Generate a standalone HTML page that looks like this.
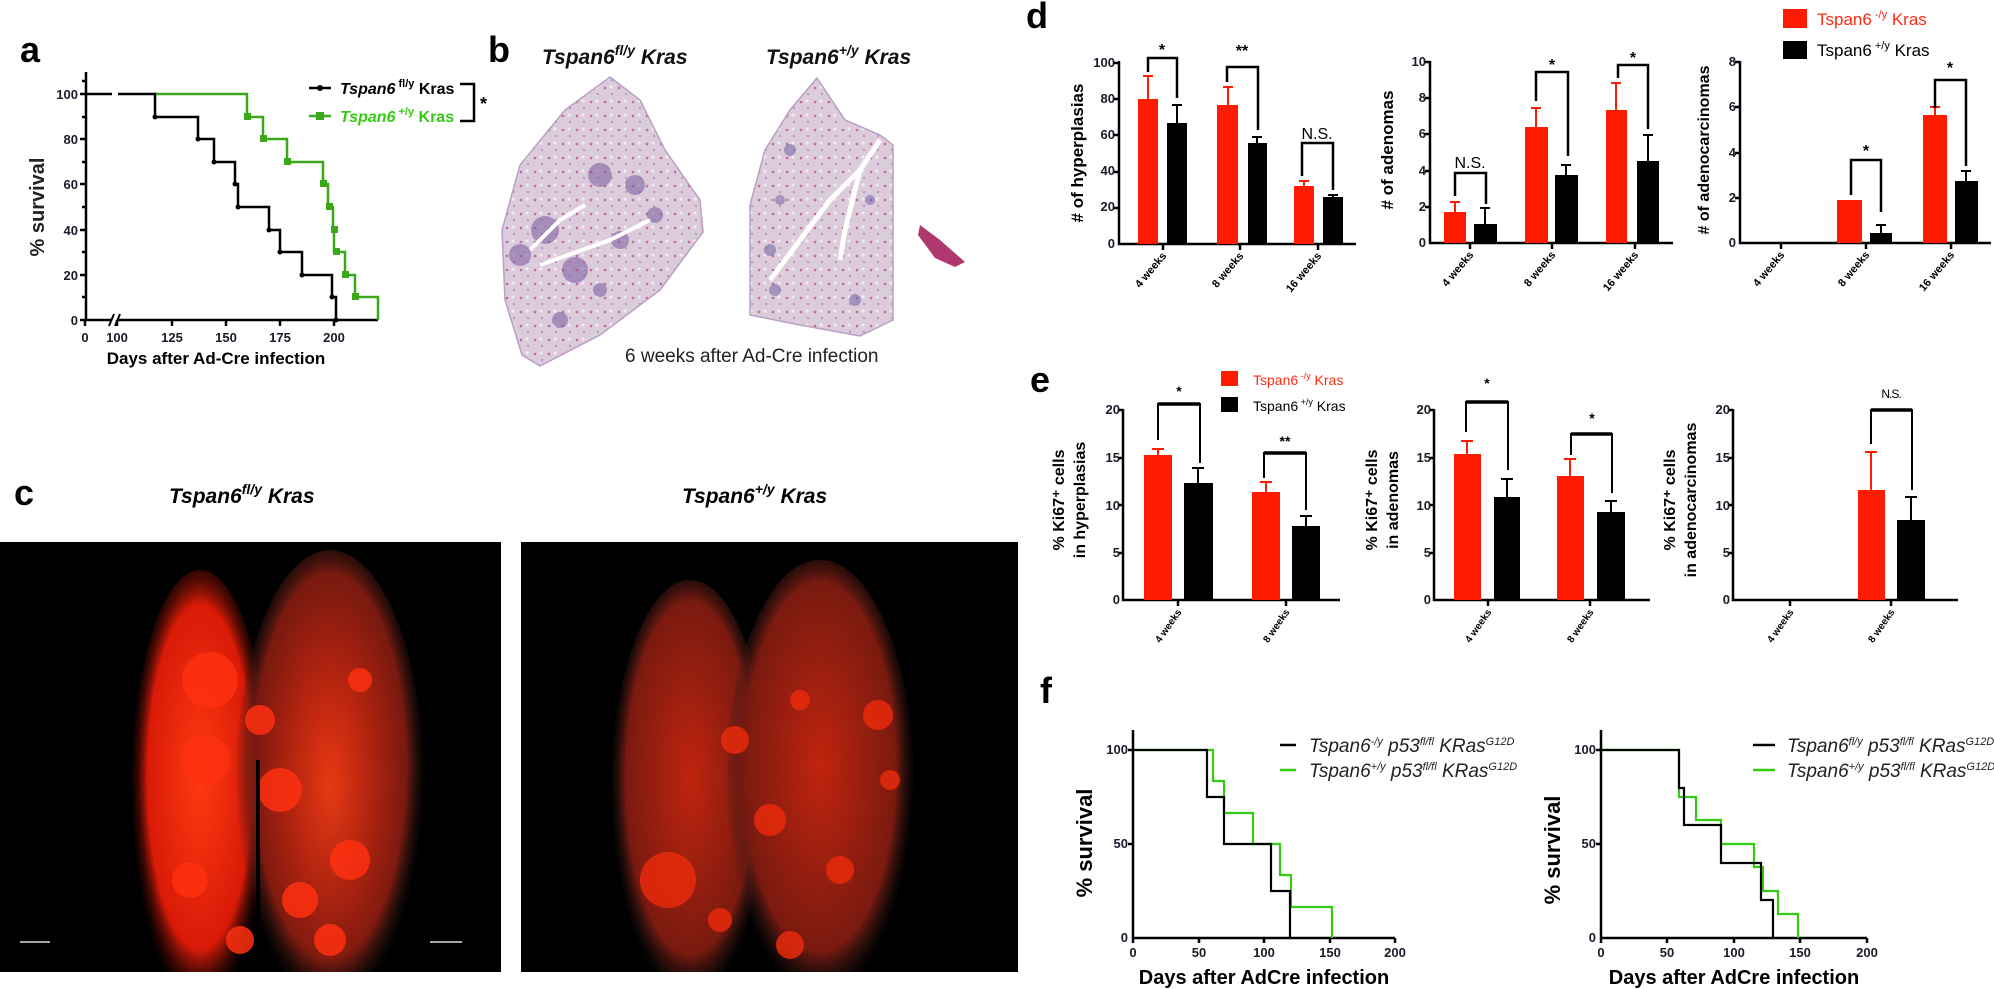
<!DOCTYPE html>
<html><head><meta charset="utf-8"><style>
html,body{margin:0;padding:0;background:#fff;}
svg{display:block;font-family:"Liberation Sans",Arial,sans-serif;}
.t{font-weight:bold;font-size:13px;fill:#1a1a2a;}
.ax{stroke:#000;stroke-width:2.5;fill:none;}
.lab{font-weight:bold;font-size:36px;}
</style></head><body>
<svg width="1994" height="989" viewBox="0 0 1994 989" xmlns="http://www.w3.org/2000/svg">
<defs>
<radialGradient id="rg" cx="50%" cy="45%" r="50%"><stop offset="0" stop-color="#ff3a10"/><stop offset="0.75" stop-color="#d81a08"/><stop offset="1" stop-color="#3a0a04" stop-opacity="0"/></radialGradient>
<radialGradient id="rd" cx="50%" cy="45%" r="50%"><stop offset="0" stop-color="#c0240e"/><stop offset="0.8" stop-color="#7a1a10"/><stop offset="1" stop-color="#2a1a18" stop-opacity="0"/></radialGradient>
<radialGradient id="blob" cx="50%" cy="50%" r="50%"><stop offset="0" stop-color="#ff4a18"/><stop offset="1" stop-color="#e0200a" stop-opacity="0"/></radialGradient>
<clipPath id="c1"><rect x="0" y="542" width="501" height="430"/></clipPath>
<clipPath id="c2"><rect x="521" y="542" width="497" height="430"/></clipPath>
<pattern id="he" width="14" height="14" patternUnits="userSpaceOnUse"><rect width="14" height="14" fill="#dccbdb"/><circle cx="3" cy="4" r="1.3" fill="#c46a9a"/><circle cx="10" cy="10" r="1" fill="#a58ab8"/><circle cx="9" cy="3" r="1.6" fill="#f2eaf2"/></pattern>
</defs>

<!-- Panel a -->
<text x="20" y="62" class="lab">a</text>
<g class="t" text-anchor="end" font-size="14">
<text x="78" y="99">100</text><text x="78" y="144">80</text><text x="78" y="189">60</text><text x="78" y="235">40</text><text x="78" y="280">20</text><text x="78" y="325">0</text></g>
<path class="ax" d="M86,72 V320 M80,94 H86 M80,139 H86 M80,184 H86 M80,230 H86 M80,275 H86 M80,320 H86 M82,117 H86 M82,162 H86 M82,207 H86 M82,252 H86 M82,297 H86 M82,81 H86"/>
<path class="ax" d="M86,320 H112 M118,320 H378 M85,320 V326 M117,320 V326 M172,320 V326 M226,320 V326 M280,320 V326 M334,320 V326"/>
<path d="M109,326 L114,314 M115,326 L120,314" stroke="#000" stroke-width="2"/>
<g class="t" text-anchor="middle" font-size="14">
<text x="85" y="342">0</text><text x="117" y="342">100</text><text x="172" y="342">125</text><text x="226" y="342">150</text><text x="280" y="342">175</text><text x="334" y="342">200</text></g>
<text x="216" y="364" text-anchor="middle" font-weight="bold" font-size="17">Days after Ad-Cre  infection</text>
<text transform="translate(44,207) rotate(-90)" text-anchor="middle" font-weight="bold" font-size="20" fill="#222">% survival</text>
<path d="M155,94 H247 V117 H263 V139 H287 V162 H323 V184 H328 V207 H333 V230 H334 V252 H345 V275 H355 V297 H378 V320" stroke="#3aa818" stroke-width="2.5" fill="none"/>
<path d="M86,94 H112 M118,94 H155 V117 H198 V139 H214 V162 H235 V184 H238 V207 H269 V230 H280 V252 H302 V275 H332 V297 H336 V320" stroke="#000" stroke-width="2.5" fill="none"/>
<g fill="#3aa818"><rect x="244" y="113" width="7" height="7"/><rect x="260" y="135" width="7" height="7"/><rect x="284" y="158" width="7" height="7"/><rect x="320" y="180" width="7" height="7"/><rect x="326" y="203" width="7" height="7"/><rect x="331" y="226" width="7" height="7"/><rect x="333" y="248" width="7" height="7"/><rect x="342" y="271" width="7" height="7"/><rect x="352" y="293" width="7" height="7"/></g>
<g fill="#000"><circle cx="155" cy="117" r="2.5"/><circle cx="198" cy="139" r="2.5"/><circle cx="214" cy="162" r="2.5"/><circle cx="235" cy="184" r="2.5"/><circle cx="238" cy="207" r="2.5"/><circle cx="269" cy="230" r="2.5"/><circle cx="280" cy="252" r="2.5"/><circle cx="302" cy="275" r="2.5"/><circle cx="332" cy="297" r="2.5"/><circle cx="336" cy="320" r="2.5"/></g>
<path d="M309,88 H331" stroke="#000" stroke-width="2.5"/><circle cx="320" cy="88" r="3"/>
<path d="M309,116 H331" stroke="#3aa818" stroke-width="2.5"/><rect x="316" y="112" width="8" height="8" fill="#3aa818"/>
<text x="340" y="94" font-weight="bold" font-size="16" font-style="italic">Tspan6<tspan font-size="11" dy="-7" font-style="normal"> fl/y</tspan><tspan dy="7" font-style="normal"> Kras</tspan></text>
<text x="340" y="122" font-weight="bold" font-size="16" font-style="italic" fill="#33cc10">Tspan6<tspan font-size="11" dy="-7" font-style="normal"> +/y</tspan><tspan dy="7" font-style="normal"> Kras</tspan></text>
<path d="M460,84 H474 V121 H460" stroke="#000" stroke-width="2.5" fill="none"/>
<text x="480" y="110" font-weight="bold" font-size="18">*</text>

<!-- Panel b -->
<text x="488" y="62" class="lab">b</text>
<text x="542" y="64" font-style="italic" font-weight="bold" font-size="21" fill="#111">Tspan6<tspan font-size="14" dy="-9">fl/y</tspan><tspan dy="9"> Kras</tspan></text>
<text x="766" y="64" font-style="italic" font-weight="bold" font-size="21" fill="#111">Tspan6<tspan font-size="14" dy="-9">+/y</tspan><tspan dy="9"> Kras</tspan></text>
<path d="M610,77 L640,100 L665,150 L700,200 L703,232 L660,290 L600,335 L540,366 L522,355 L505,300 L502,230 L520,165 L565,110 Z" fill="url(#he)" stroke="#b9a0c4" stroke-width="1.5"/>
<g fill="#7a5a9e" opacity="0.55"><circle cx="545" cy="230" r="14"/><circle cx="600" cy="175" r="12"/><circle cx="635" cy="185" r="10"/><circle cx="575" cy="270" r="13"/><circle cx="520" cy="255" r="11"/><circle cx="560" cy="320" r="8"/><circle cx="620" cy="240" r="9"/><circle cx="655" cy="215" r="8"/><circle cx="600" cy="290" r="7"/></g>
<path d="M530,250 L560,220 L585,205 M540,265 L610,240 L650,220" stroke="#fff" stroke-width="4" fill="none"/>
<path d="M817,78 L845,120 L880,135 L893,145 L893,320 L860,336 L800,325 L750,315 L750,205 L765,150 L790,110 Z" fill="url(#he)" stroke="#b9a0c4" stroke-width="1.5"/>
<g fill="#6a5aa0" opacity="0.5"><circle cx="790" cy="150" r="6"/><circle cx="770" cy="250" r="6"/><circle cx="775" cy="290" r="6"/><circle cx="855" cy="300" r="6"/><circle cx="870" cy="200" r="5"/><circle cx="780" cy="200" r="5"/></g>
<path d="M880,140 L860,170 L830,200 L800,240 L770,280 M860,170 L845,230 L840,260" stroke="#fff" stroke-width="5" fill="none"/>
<path d="M920,225 L940,240 L965,262 L955,267 L935,258 L918,235 Z" fill="#b0386e"/>
<text x="625" y="362" font-size="19" fill="#222">6 weeks after Ad-Cre infection</text>

<!-- Panel c -->
<text x="14" y="505" class="lab" font-size="32">c</text>
<text x="169" y="503" font-style="italic" font-weight="bold" font-size="21">Tspan6<tspan font-size="14" dy="-9">fl/y</tspan><tspan dy="9"> Kras</tspan></text>
<text x="682" y="503" font-style="italic" font-weight="bold" font-size="21">Tspan6<tspan font-size="14" dy="-9">+/y</tspan><tspan dy="9"> Kras</tspan></text>
<rect x="0" y="542" width="501" height="430" fill="#000"/>
<rect x="521" y="542" width="497" height="430" fill="#000"/>
<g clip-path="url(#c1)">
<ellipse cx="200" cy="800" rx="70" ry="230" fill="url(#rg)"/>
<ellipse cx="330" cy="790" rx="95" ry="240" fill="url(#rd)"/>
<ellipse cx="330" cy="790" rx="75" ry="200" fill="url(#blob)" opacity="0.6"/>
<g fill="#ff3010" opacity="0.85"><circle cx="210" cy="680" r="28"/><circle cx="205" cy="760" r="25"/><circle cx="360" cy="680" r="12"/><circle cx="280" cy="790" r="22"/><circle cx="350" cy="860" r="20"/><circle cx="300" cy="900" r="18"/><circle cx="190" cy="880" r="18"/><circle cx="260" cy="720" r="15"/><circle cx="330" cy="940" r="16"/><circle cx="240" cy="940" r="14"/></g>
<rect x="256" y="760" width="4" height="212" fill="#000"/>
</g>
<g clip-path="url(#c2)">
<ellipse cx="690" cy="800" rx="80" ry="220" fill="url(#rd)"/>
<ellipse cx="820" cy="790" rx="95" ry="230" fill="url(#rd)"/>
<g fill="#e82a0c" opacity="0.85"><circle cx="878" cy="715" r="15"/><circle cx="668" cy="880" r="28"/><circle cx="735" cy="740" r="14"/><circle cx="800" cy="700" r="10"/><circle cx="770" cy="820" r="16"/><circle cx="840" cy="870" r="14"/><circle cx="720" cy="920" r="12"/><circle cx="890" cy="780" r="10"/><circle cx="790" cy="945" r="14"/></g>
</g>
<path d="M20,942 H50 M430,942 H462" stroke="#ddd" stroke-width="1.5"/>

<!-- Panel d -->
<text x="1026" y="28" class="lab">d</text>
<g class="t" text-anchor="end" font-size="11"><text x="1115" y="67">100</text><text x="1115" y="103">80</text><text x="1115" y="139">60</text><text x="1115" y="175">40</text><text x="1115" y="211">20</text><text x="1115" y="248">0</text></g>
<path class="ax" d="M1119,61 V244 H1356 M1114,63 H1119 M1114,99 H1119 M1114,135 H1119 M1114,172 H1119 M1114,208 H1119 M1163,244 V250 M1240,244 V250 M1318,244 V250"/>
<text transform="translate(1083,153) rotate(-90)" text-anchor="middle" font-weight="bold" font-size="17">#  of hyperplasias</text>
<g fill="#ff1a00"><rect x="1138" y="99" width="20" height="145"/><rect x="1217" y="105" width="21" height="139"/><rect x="1294" y="186" width="20" height="58"/></g>
<g fill="#000"><rect x="1167" y="123" width="20" height="121"/><rect x="1248" y="143" width="19" height="101"/><rect x="1323" y="197" width="20" height="47"/></g>
<path d="M1148,99 V76 M1143,76 H1153 M1228,105 V87 M1223,87 H1233 M1304,186 V181 M1299,181 H1309" stroke="#ff1a00" stroke-width="2"/>
<path d="M1177,123 V105 M1172,105 H1182 M1257,143 V137 M1252,137 H1262 M1333,197 V195 M1328,195 H1338" stroke="#000" stroke-width="2"/>
<path d="M1148,72 V58 H1177 V98 M1227,82 V67 H1258 V130 M1302,176 V143 H1333 V190" stroke="#000" stroke-width="2.5" fill="none"/>
<g font-weight="bold" font-size="16" text-anchor="middle"><text x="1162" y="55">*</text><text x="1242" y="56">**</text><text x="1317" y="139" font-weight="normal">N.S.</text></g>
<g class="t" text-anchor="end" font-size="11"><text x="1426" y="66">10</text><text x="1426" y="102">8</text><text x="1426" y="138">6</text><text x="1426" y="175">4</text><text x="1426" y="211">2</text><text x="1426" y="247">0</text></g>
<path class="ax" d="M1430,61 V243 H1673 M1425,62 H1430 M1425,98 H1430 M1425,134 H1430 M1425,171 H1430 M1425,207 H1430 M1470,243 V249 M1552,243 V249 M1635,243 V249"/>
<text transform="translate(1393,150) rotate(-90)" text-anchor="middle" font-weight="bold" font-size="17">#  of adenomas</text>
<g fill="#ff1a00"><rect x="1444" y="212" width="22" height="31"/><rect x="1525" y="127" width="23" height="116"/><rect x="1606" y="110" width="21" height="133"/></g>
<g fill="#000"><rect x="1474" y="224" width="23" height="19"/><rect x="1555" y="175" width="23" height="68"/><rect x="1637" y="161" width="22" height="82"/></g>
<path d="M1455,212 V202 M1450,202 H1460 M1536,127 V108 M1531,108 H1541 M1616,110 V83 M1611,83 H1621" stroke="#ff1a00" stroke-width="2"/>
<path d="M1485,224 V208 M1480,208 H1490 M1566,175 V165 M1561,165 H1571 M1648,161 V135 M1643,135 H1653" stroke="#000" stroke-width="2"/>
<path d="M1455,196 V173 H1486 V204 M1536,101 V72 H1568 V156 M1618,78 V65 H1648 V129" stroke="#000" stroke-width="2.5" fill="none"/>
<g font-size="16" text-anchor="middle"><text x="1470" y="168">N.S.</text><text x="1552" y="70" font-weight="bold">*</text><text x="1633" y="63" font-weight="bold">*</text></g>
<g class="t" text-anchor="end" font-size="11"><text x="1736" y="66">8</text><text x="1736" y="111">6</text><text x="1736" y="157">4</text><text x="1736" y="202">2</text><text x="1736" y="247">0</text></g>
<path class="ax" d="M1740,61 V243 H1991 M1735,62 H1740 M1735,107 H1740 M1735,153 H1740 M1735,198 H1740 M1781,243 V249 M1866,243 V249 M1951,243 V249"/>
<text transform="translate(1709,150) rotate(-90)" text-anchor="middle" font-weight="bold" font-size="16">#  of adenocarcinomas</text>
<g fill="#ff1a00"><rect x="1837" y="200" width="25" height="43"/><rect x="1923" y="115" width="24" height="128"/></g>
<g fill="#000"><rect x="1870" y="233" width="22" height="10"/><rect x="1955" y="181" width="23" height="62"/></g>
<path d="M1935,115 V107 M1930,107 H1940" stroke="#ff1a00" stroke-width="2"/>
<path d="M1881,233 V225 M1876,225 H1886 M1966,181 V171 M1961,171 H1971" stroke="#000" stroke-width="2"/>
<path d="M1851,195 V160 H1881 V212 M1935,108 V80 H1966 V166" stroke="#000" stroke-width="2.5" fill="none"/>
<g font-weight="bold" font-size="16" text-anchor="middle"><text x="1866" y="156">*</text><text x="1950" y="73">*</text></g>
<rect x="1783" y="9" width="24" height="19" fill="#ff1a00"/><rect x="1783" y="41" width="24" height="18" fill="#000"/>
<text x="1817" y="25" font-size="17" fill="#ff2a10">Tspan6<tspan font-size="11" dy="-7"> -/y</tspan><tspan dy="7"> Kras</tspan></text>
<text x="1817" y="56" font-size="17">Tspan6<tspan font-size="11" dy="-7"> +/y</tspan><tspan dy="7"> Kras</tspan></text>
<g font-weight="bold" font-size="11" text-anchor="end">
<text transform="translate(1167,256) rotate(-50)">4 weeks</text><text transform="translate(1244,256) rotate(-50)">8 weeks</text><text transform="translate(1322,256) rotate(-50)">16 weeks</text>
<text transform="translate(1474,255) rotate(-50)">4 weeks</text><text transform="translate(1556,255) rotate(-50)">8 weeks</text><text transform="translate(1639,255) rotate(-50)">16 weeks</text>
<text transform="translate(1785,255) rotate(-50)">4 weeks</text><text transform="translate(1870,255) rotate(-50)">8 weeks</text><text transform="translate(1955,255) rotate(-50)">16 weeks</text></g>

<!-- Panel e -->
<text x="1030" y="392" class="lab">e</text>
<rect x="1221" y="371" width="17" height="15" fill="#ff1a00"/><rect x="1221" y="397" width="17" height="15" fill="#000"/>
<text x="1253" y="385" font-size="14" fill="#ff2a10">Tspan6<tspan font-size="9" dy="-6"> -/y</tspan><tspan dy="6"> Kras</tspan></text>
<text x="1253" y="411" font-size="14">Tspan6<tspan font-size="9" dy="-6"> +/y</tspan><tspan dy="6"> Kras</tspan></text>
<g class="t" text-anchor="end" font-size="10"><text x="1120" y="414">20</text><text x="1120" y="462">15</text><text x="1120" y="510">10</text><text x="1120" y="557">5</text><text x="1120" y="604">0</text></g>
<path class="ax" d="M1123,409 V600 H1340 M1119,410 H1123 M1119,458 H1123 M1119,505 H1123 M1119,553 H1123 M1178,600 V606 M1286,600 V606" stroke-width="2"/>
<text transform="translate(1064,500) rotate(-90)" text-anchor="middle" font-weight="bold" font-size="16">% Ki67⁺ cells</text>
<text transform="translate(1085,500) rotate(-90)" text-anchor="middle" font-weight="bold" font-size="16">in hyperplasias</text>
<g fill="#ff1a00"><rect x="1144" y="455" width="28" height="145"/><rect x="1252" y="492" width="28" height="108"/></g>
<g fill="#000"><rect x="1184" y="483" width="29" height="117"/><rect x="1292" y="526" width="28" height="74"/></g>
<path d="M1158,455 V449 M1152,449 H1164 M1266,492 V482 M1260,482 H1272" stroke="#ff1a00" stroke-width="2"/>
<path d="M1198,483 V468 M1192,468 H1204 M1306,526 V516 M1300,516 H1312" stroke="#000" stroke-width="2"/>
<path d="M1158,440 V404 H1200 V463 M1264,478 V453 H1306 V510" stroke="#000" stroke-width="2" fill="none"/>
<path d="M1158,404 H1200 M1264,453 H1306" stroke="#000" stroke-width="3.5"/>
<g font-weight="bold" font-size="14" text-anchor="middle"><text x="1179" y="396">*</text><text x="1285" y="446">**</text></g>
<g class="t" text-anchor="end" font-size="10"><text x="1431" y="414">20</text><text x="1431" y="462">15</text><text x="1431" y="510">10</text><text x="1431" y="557">5</text><text x="1431" y="604">0</text></g>
<path class="ax" d="M1434,409 V600 H1650 M1430,410 H1434 M1430,458 H1434 M1430,505 H1434 M1430,553 H1434 M1488,600 V606 M1590,600 V606" stroke-width="2"/>
<text transform="translate(1377,500) rotate(-90)" text-anchor="middle" font-weight="bold" font-size="16">% Ki67⁺ cells</text>
<text transform="translate(1398,500) rotate(-90)" text-anchor="middle" font-weight="bold" font-size="16">in adenomas</text>
<g fill="#ff1a00"><rect x="1454" y="454" width="27" height="146"/><rect x="1557" y="476" width="27" height="124"/></g>
<g fill="#000"><rect x="1494" y="497" width="26" height="103"/><rect x="1597" y="512" width="28" height="88"/></g>
<path d="M1467,454 V441 M1461,441 H1473 M1570,476 V459 M1564,459 H1576" stroke="#ff1a00" stroke-width="2"/>
<path d="M1507,497 V479 M1501,479 H1513 M1611,512 V501 M1605,501 H1617" stroke="#000" stroke-width="2"/>
<path d="M1466,432 V402 H1508 V470 M1571,455 V434 H1612 V493" stroke="#000" stroke-width="2" fill="none"/>
<path d="M1466,402 H1508 M1571,434 H1612" stroke="#000" stroke-width="3.5"/>
<g font-weight="bold" font-size="14" text-anchor="middle"><text x="1487" y="388">*</text><text x="1592" y="423">*</text></g>
<g class="t" text-anchor="end" font-size="10"><text x="1730" y="414">20</text><text x="1730" y="462">15</text><text x="1730" y="510">10</text><text x="1730" y="557">5</text><text x="1730" y="604">0</text></g>
<path class="ax" d="M1733,409 V600 H1958 M1729,410 H1733 M1729,458 H1733 M1729,505 H1733 M1729,553 H1733 M1790,600 V606 M1891,600 V606" stroke-width="2"/>
<text transform="translate(1675,500) rotate(-90)" text-anchor="middle" font-weight="bold" font-size="16">% Ki67⁺ cells</text>
<text transform="translate(1696,500) rotate(-90)" text-anchor="middle" font-weight="bold" font-size="16">in adenocarcinomas</text>
<rect x="1858" y="490" width="27" height="110" fill="#ff1a00"/><rect x="1897" y="520" width="28" height="80" fill="#000"/>
<path d="M1871,490 V452 M1865,452 H1877" stroke="#ff1a00" stroke-width="2"/>
<path d="M1911,520 V497 M1905,497 H1917" stroke="#000" stroke-width="2"/>
<path d="M1871,444 V410 H1912 V490" stroke="#000" stroke-width="2" fill="none"/>
<path d="M1871,410 H1912" stroke="#000" stroke-width="3.5"/>
<text x="1891" y="398" font-size="12" text-anchor="middle" letter-spacing="-1">N.S.</text>
<g font-weight="bold" font-size="10" text-anchor="end">
<text transform="translate(1182,612) rotate(-55)">4 weeks</text><text transform="translate(1290,612) rotate(-55)">8 weeks</text>
<text transform="translate(1492,612) rotate(-55)">4 weeks</text><text transform="translate(1594,612) rotate(-55)">8 weeks</text>
<text transform="translate(1794,612) rotate(-55)">4 weeks</text><text transform="translate(1895,612) rotate(-55)">8 weeks</text></g>

<!-- Panel f -->
<text x="1040" y="703" class="lab">f</text>
<g class="t" text-anchor="end" font-size="12"><text x="1128" y="754">100</text><text x="1128" y="848">50</text><text x="1128" y="942">0</text></g>
<path class="ax" d="M1133,730 V938 H1395 M1128,750 H1133 M1128,844 H1133 M1133,938 V943 M1199,938 V943 M1264,938 V943 M1330,938 V943 M1395,938 V943" stroke-width="2"/>
<g class="t" text-anchor="middle" font-size="12"><text x="1133" y="957">0</text><text x="1199" y="957">50</text><text x="1264" y="957">100</text><text x="1330" y="957">150</text><text x="1395" y="957">200</text></g>
<text x="1264" y="984" text-anchor="middle" font-weight="bold" font-size="20">Days after AdCre infection</text>
<text transform="translate(1092,843) rotate(-90)" text-anchor="middle" font-weight="bold" font-size="22">% survival</text>
<path d="M1133,750 H1213 V781 H1224 V813 H1253 V844 H1280 V875 H1291 V907 H1332 V938" stroke="#33cc10" stroke-width="2.2" fill="none"/>
<path d="M1133,750 H1207 V797 H1224 V844 H1271 V891 H1290 V938" stroke="#000" stroke-width="2.2" fill="none"/>
<path d="M1280,745 H1296" stroke="#000" stroke-width="2.5"/><path d="M1280,770 H1296" stroke="#33cc10" stroke-width="2.5"/>
<text x="1309" y="752" font-style="italic" font-size="19" fill="#222">Tspan6<tspan font-size="11" dy="-7">-/y</tspan><tspan dy="7"> p53</tspan><tspan font-size="11" dy="-7">fl/fl</tspan><tspan dy="7"> KRas</tspan><tspan font-size="11" dy="-7">G12D</tspan></text>
<text x="1309" y="777" font-style="italic" font-size="19" fill="#222">Tspan6<tspan font-size="11" dy="-7">+/y</tspan><tspan dy="7"> p53</tspan><tspan font-size="11" dy="-7">fl/fl</tspan><tspan dy="7"> KRas</tspan><tspan font-size="11" dy="-7">G12D</tspan></text>
<g class="t" text-anchor="end" font-size="12"><text x="1596" y="754">100</text><text x="1596" y="848">50</text><text x="1596" y="942">0</text></g>
<path class="ax" d="M1601,730 V938 H1867 M1596,750 H1601 M1596,844 H1601 M1601,938 V943 M1667,938 V943 M1734,938 V943 M1800,938 V943 M1867,938 V943" stroke-width="2"/>
<g class="t" text-anchor="middle" font-size="12"><text x="1601" y="957">0</text><text x="1667" y="957">50</text><text x="1734" y="957">100</text><text x="1800" y="957">150</text><text x="1867" y="957">200</text></g>
<text x="1734" y="984" text-anchor="middle" font-weight="bold" font-size="20">Days after AdCre infection</text>
<text transform="translate(1560,850) rotate(-90)" text-anchor="middle" font-weight="bold" font-size="22">% survival</text>
<path d="M1601,750 H1679 V797 H1696 V820 H1721 V844 H1754 V867 H1763 V891 H1778 V914 H1798 V938" stroke="#33cc10" stroke-width="2.2" fill="none"/>
<path d="M1601,750 H1679 V788 H1684 V825 H1721 V863 H1761 V900 H1773 V938" stroke="#000" stroke-width="2.2" fill="none"/>
<path d="M1753,745 H1775" stroke="#000" stroke-width="2.5"/><path d="M1753,770 H1775" stroke="#33cc10" stroke-width="2.5"/>
<text x="1787" y="752" font-style="italic" font-size="19" fill="#222">Tspan6<tspan font-size="11" dy="-7">fl/y</tspan><tspan dy="7"> p53</tspan><tspan font-size="11" dy="-7">fl/fl</tspan><tspan dy="7"> KRas</tspan><tspan font-size="11" dy="-7">G12D</tspan></text>
<text x="1787" y="777" font-style="italic" font-size="19" fill="#222">Tspan6<tspan font-size="11" dy="-7">+/y</tspan><tspan dy="7"> p53</tspan><tspan font-size="11" dy="-7">fl/fl</tspan><tspan dy="7"> KRas</tspan><tspan font-size="11" dy="-7">G12D</tspan></text>
</svg>
</body></html>
